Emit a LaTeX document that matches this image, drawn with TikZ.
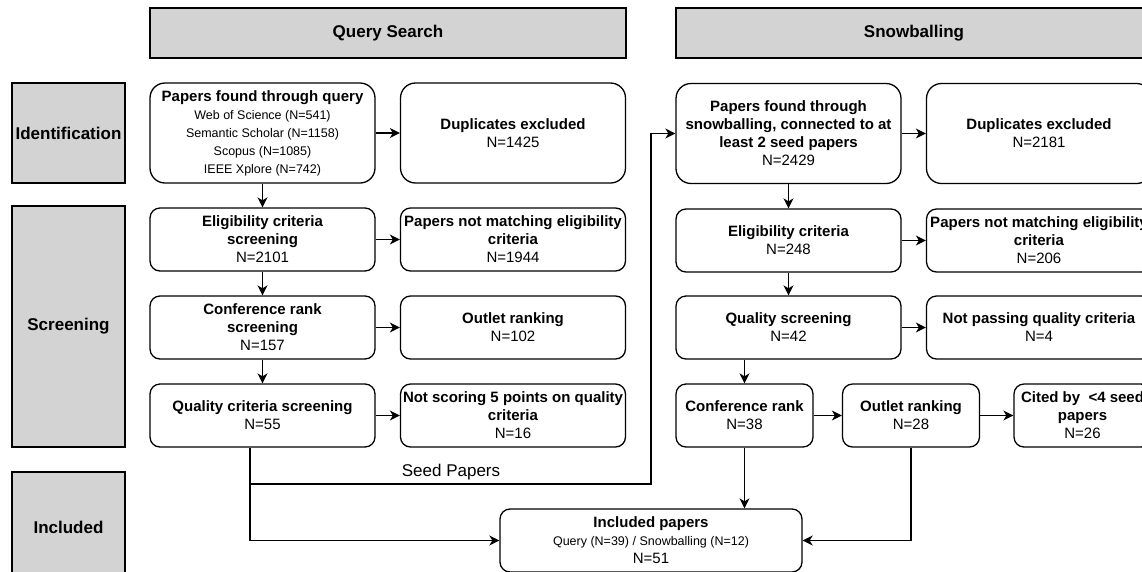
\documentclass[tikz,border=0pt]{standalone}
\usepackage{fontspec}
\setmainfont{Liberation Sans}
\usetikzlibrary{arrows.meta}

\definecolor{lanegray}{RGB}{211,211,211}
\newcommand{\srctxt}[1]{{\fontsize{12.5}{18.5}\selectfont #1}}

\tikzset{
  box/.style={draw, line width=1.3pt, rounded corners=15pt, align=center, inner sep=0pt,
    minimum width=225pt, minimum height=100pt, font=\fontsize{15}{18}\selectfont},
  smallbox/.style={box, rounded corners=10pt, minimum height=63pt},
  narrowbox/.style={smallbox, minimum width=137pt},
  lane/.style={draw, fill=lanegray, line width=1.5pt, inner sep=0pt, align=center,
    font=\bfseries\fontsize{17}{20}\selectfont},
  arr/.style={line width=1.4pt, -{Stealth[length=10pt,width=10pt,inset=3pt]}},
  link/.style={line width=1.2pt},
}

\begin{document}
\begin{tikzpicture}[x=1pt,y=-1pt]
\useasboundingbox (0,0) rectangle (1142,571);

\node[lane, minimum width=476pt, minimum height=50pt] (hquery) at (388,33) {Query Search};
\node[lane, minimum width=476pt, minimum height=50pt] (hsnow) at (914,33) {Snowballing};

\node[lane, minimum width=113pt, minimum height=100pt] (lident) at (68.5,133) {Identification};
\node[lane, minimum width=113pt, minimum height=241pt] (lscreen) at (68.5,326.5) {Screening};
\node[lane, minimum width=113pt, minimum height=110pt] (lincl) at (68.5,527) {Included};

\node[box] (q1) at (262.5,133) {\textbf{Papers found through query}\\\srctxt{Web of Science (N=541)}\\\srctxt{Semantic Scholar (N=1158)}\\\srctxt{Scopus (N=1085)}\\\srctxt{IEEE Xplore (N=742)}};
\node[box] (dup1) at (513,133) {\textbf{Duplicates excluded}\\N=1425};

\node[smallbox] (elig1) at (262.5,239.5) {\textbf{Eligibility criteria}\\\textbf{screening}\\N=2101};
\node[smallbox] (nm1) at (513,239.5) {\textbf{Papers not matching eligibility}\\\textbf{criteria}\\N=1944};

\node[smallbox] (conf1) at (262.5,327.5) {\textbf{Conference rank}\\\textbf{screening}\\N=157};
\node[smallbox] (out1) at (513,327.5) {\textbf{Outlet ranking}\\N=102};

\node[smallbox] (qual1) at (262.5,415.5) {\textbf{Quality criteria screening}\\N=55};
\node[smallbox] (ns1) at (513,415.5) {\textbf{Not scoring 5 points on quality}\\\textbf{criteria}\\N=16};

\node[box] (snow1) at (788.5,133.5) {\textbf{Papers found through}\\\textbf{snowballing, connected to at}\\\textbf{least 2 seed papers}\\N=2429};
\node[box] (dup2) at (1039,133.5) {\textbf{Duplicates excluded}\\N=2181};

\node[smallbox] (elig2) at (788.5,240.5) {\textbf{Eligibility criteria}\\N=248};
\node[smallbox] (nm2) at (1039,240.5) {\textbf{Papers not matching eligibility}\\\textbf{criteria}\\N=206};

\node[smallbox] (qs2) at (788.5,327.5) {\textbf{Quality screening}\\N=42};
\node[smallbox] (np2) at (1039,327.5) {\textbf{Not passing quality criteria}\\N=4};

\node[narrowbox] (conf2) at (744.5,415.5) {\textbf{Conference rank}\\N=38};
\node[narrowbox] (out2) at (911,415.5) {\textbf{Outlet ranking}\\N=28};
\node[narrowbox] (cited) at (1082.5,415.5) {\textbf{Cited by\ \ <4 seed}\\\textbf{papers}\\N=26};

\node[smallbox, minimum width=302pt] (incl) at (651,540.5) {\textbf{Included papers}\\\srctxt{Query (N=39) / Snowballing (N=12)}\\N=51};

\coordinate (split) at (250,484);
\coordinate (seedturn) at (651,484);
\node[font=\fontsize{17}{20}\selectfont] (seedlbl) at (451,472) {Seed Papers};

\draw[arr] (q1) -- (dup1);
\draw[arr] (q1) -- (elig1);
\draw[arr] (elig1) -- (nm1);
\draw[arr] (elig1) -- (conf1);
\draw[arr] (conf1) -- (out1);
\draw[arr] (conf1) -- (qual1);
\draw[arr] (qual1) -- (ns1);

\draw[link] (qual1.south -| split) -- (split);
\draw[arr] (split) |- (incl.west);
\draw[arr] (split) -- (seedturn) |- (snow1.west);

\draw[arr] (snow1) -- (dup2);
\draw[arr] (snow1) -- (elig2);
\draw[arr] (elig2) -- (nm2);
\draw[arr] (elig2) -- (qs2);
\draw[arr] (qs2) -- (np2);
\draw[arr] (qs2.south -| conf2) -- (conf2);
\draw[arr] (conf2) -- (out2);
\draw[arr] (out2) -- (cited);
\draw[arr] (conf2) -- (incl.north -| conf2);
\draw[arr] (out2) |- (incl.east);

\end{tikzpicture}
\end{document}
